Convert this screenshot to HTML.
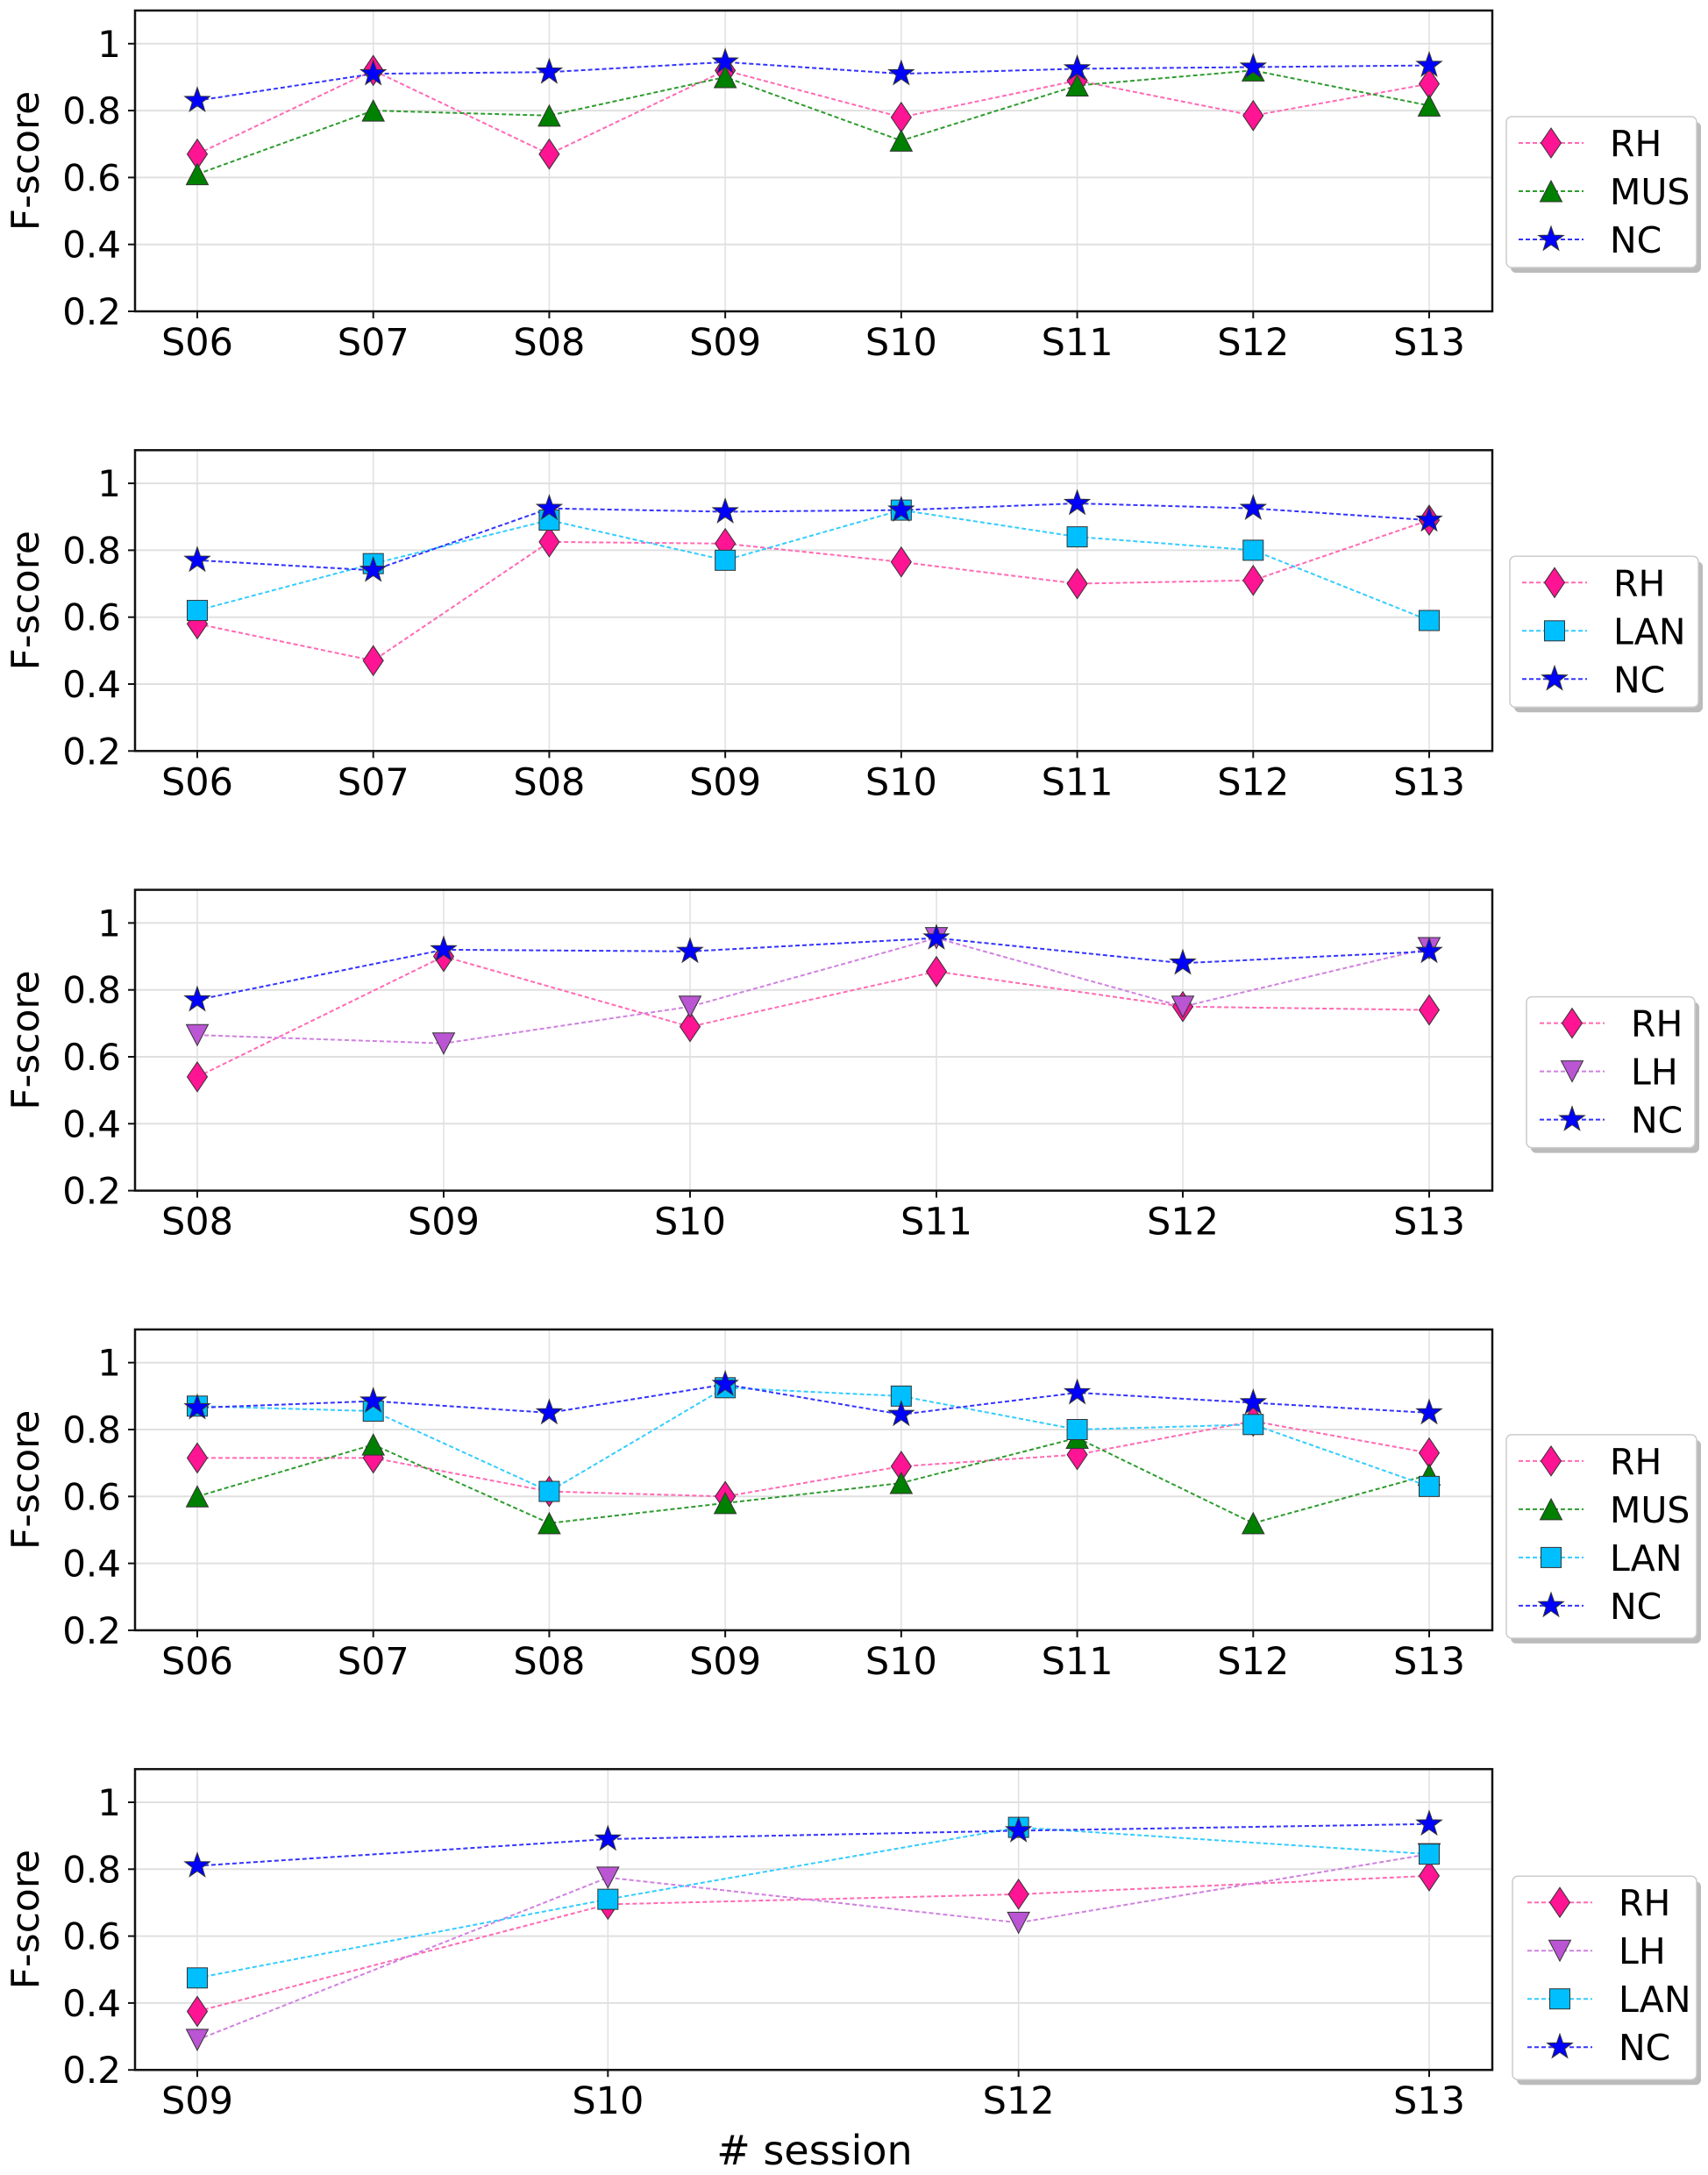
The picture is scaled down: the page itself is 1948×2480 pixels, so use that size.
<!DOCTYPE html>
<html><head><meta charset="utf-8"><style>
html,body{margin:0;padding:0;background:#fff;}
svg{display:block;}
text{font-family:"DejaVu Sans","Liberation Sans",sans-serif;fill:#000;}
</style></head><body>
<svg id="s" width="1948" height="2480" viewBox="0 0 1948 2480" xmlns="http://www.w3.org/2000/svg"></svg>
<script>
const S=document.getElementById('s');let h='';
const L=154,R=1702,H=343,OFF=501.3;
const st={
RH:{c:'#ff1493',lc:'#ff69b4',m:'d'},
MUS:{c:'#008000',lc:'#2e9b2e',m:'t'},
LAN:{c:'#00bfff',lc:'#33ccff',m:'s'},
NC:{c:'#0000ff',lc:'#3333ff',m:'*'},
LH:{c:'#ba55d3',lc:'#d080e0',m:'v'}};
function mk(m,x,y,c,sc){sc=sc||1;
 const sw='stroke="#333" stroke-width="1"';
 if(m=='d'){const w=11.5*sc,hh=17*sc;return `<polygon points="${x},${y-hh} ${x+w},${y} ${x},${y+hh} ${x-w},${y}" fill="${c}" ${sw}/>`;}
 if(m=='t'){const w=12.5*sc,hh=12*sc;return `<polygon points="${x},${y-hh} ${x+w},${y+hh} ${x-w},${y+hh}" fill="${c}" ${sw}/>`;}
 if(m=='v'){const w=12.5*sc,hh=12*sc;return `<polygon points="${x},${y+hh} ${x+w},${y-hh} ${x-w},${y-hh}" fill="${c}" ${sw}/>`;}
 if(m=='s'){const a=11.5*sc;return `<rect x="${x-a}" y="${y-a}" width="${2*a}" height="${2*a}" fill="${c}" ${sw}/>`;}
 let p=[];for(let i=0;i<10;i++){const r=(i%2?6:15)*sc,a=-Math.PI/2+i*Math.PI/5;p.push((x+r*Math.cos(a)).toFixed(1)+','+(y+r*Math.sin(a)).toFixed(1));}
 return `<polygon points="${p.join(' ')}" fill="${c}" ${sw}/>`;
}
const panels=[
{cats:['S06','S07','S08','S09','S10','S11','S12','S13'],leg:{x1:1718,x2:1935,top:121,mx:1769,tx:1836},
 ser:{RH:[.67,.92,.67,.92,.78,.89,.785,.88],MUS:[.61,.80,.785,.90,.71,.875,.92,.815],NC:[.83,.91,.915,.945,.91,.925,.93,.935]}},
{cats:['S06','S07','S08','S09','S10','S11','S12','S13'],leg:{x1:1722,x2:1937,top:121,mx:1773,tx:1840},
 ser:{RH:[.58,.47,.825,.82,.765,.70,.71,.89],LAN:[.62,.76,.89,.77,.92,.84,.80,.59],NC:[.77,.74,.925,.915,.92,.94,.925,.89]}},
{cats:['S08','S09','S10','S11','S12','S13'],leg:{x1:1741,x2:1933,top:122,mx:1793,tx:1860},
 ser:{RH:[.54,.90,.69,.855,.75,.74],LH:[.665,.64,.75,.955,.75,.925],NC:[.77,.92,.915,.955,.88,.915]}},
{cats:['S06','S07','S08','S09','S10','S11','S12','S13'],leg:{x1:1718,x2:1935,top:120,mx:1769,tx:1836},
 ser:{RH:[.715,.715,.615,.60,.69,.725,.825,.73],MUS:[.60,.755,.52,.58,.64,.775,.52,.665],LAN:[.87,.855,.615,.925,.90,.80,.815,.63],NC:[.865,.885,.85,.935,.845,.91,.88,.85]}},
{cats:['S09','S10','S12','S13'],leg:{x1:1725,x2:1935,top:122,mx:1779,tx:1846},
 ser:{RH:[.375,.695,.725,.78],LH:[.29,.775,.64,.845],LAN:[.475,.71,.925,.845],NC:[.81,.89,.915,.935]}}];
panels.forEach((p,i)=>{
 const T=12+i*OFF,B=T+H;
 const y=v=>B-(v-0.2)*381.5;
 const n=p.cats.length,xs=p.cats.map((c,j)=>225+j*(1630-225)/(n-1));
 [1,.8,.6,.4].forEach(v=>{h+=`<line x1="${L}" x2="${R}" y1="${y(v)}" y2="${y(v)}" stroke="#e0e0e0" stroke-width="2"/>`;});
 xs.forEach(x=>{h+=`<line x1="${x}" x2="${x}" y1="${T}" y2="${B}" stroke="#e0e0e0" stroke-width="1.5"/>`;});
 for(const k in p.ser){const s=st[k],d=p.ser[k];
  h+=`<polyline points="${d.map((v,j)=>xs[j]+','+y(v).toFixed(1)).join(' ')}" fill="none" stroke="${s.lc}" stroke-width="2" stroke-dasharray="5,3"/>`;}
 for(const k in p.ser){const s=st[k],d=p.ser[k];d.forEach((v,j)=>{h+=mk(s.m,xs[j],y(v),s.c);});}
 h+=`<rect x="${L}" y="${T}" width="${R-L}" height="${H}" fill="none" stroke="#111" stroke-width="2.5"/>`;
 [1,.8,.6,.4,.2].forEach(v=>{h+=`<line x1="${L-8}" x2="${L}" y1="${y(v)}" y2="${y(v)}" stroke="#111" stroke-width="2"/><text x="${L-16}" y="${y(v)+15}" font-size="42" text-anchor="end">${v==1?'1':v.toFixed(1)}</text>`;});
 xs.forEach((x,j)=>{h+=`<line x1="${x}" x2="${x}" y1="${B}" y2="${B+8}" stroke="#111" stroke-width="2"/><text x="${x}" y="${B+50}" font-size="43" text-anchor="middle">${p.cats[j]}</text>`;});
 h+=`<text transform="translate(44,${(T+B)/2}) rotate(-90)" font-size="44" text-anchor="middle">F-score</text>`;
 const g=p.leg,keys=Object.keys(p.ser),lt=T+g.top,lh=keys.length==3?172:232;
 h+=`<rect x="${g.x1+5}" y="${lt+6}" width="${g.x2-g.x1}" height="${lh}" rx="6" fill="#bbb"/>`;
 h+=`<rect x="${g.x1}" y="${lt}" width="${g.x2-g.x1}" height="${lh}" rx="6" fill="#fff" stroke="#ccc" stroke-width="1.5"/>`;
 keys.forEach((k,j)=>{const s=st[k],ry=lt+30+j*55;
  h+=`<line x1="${g.mx-37}" x2="${g.mx+37}" y1="${ry}" y2="${ry}" stroke="${s.lc}" stroke-width="2" stroke-dasharray="5,3"/>`;
  h+=mk(s.m,g.mx,ry,s.c);
  h+=`<text x="${g.tx}" y="${ry+15}" font-size="41">${k}</text>`;});
});
h+=`<text x="929" y="2468" font-size="46" text-anchor="middle"># session</text>`;
S.innerHTML=h;
</script>
</body></html>
